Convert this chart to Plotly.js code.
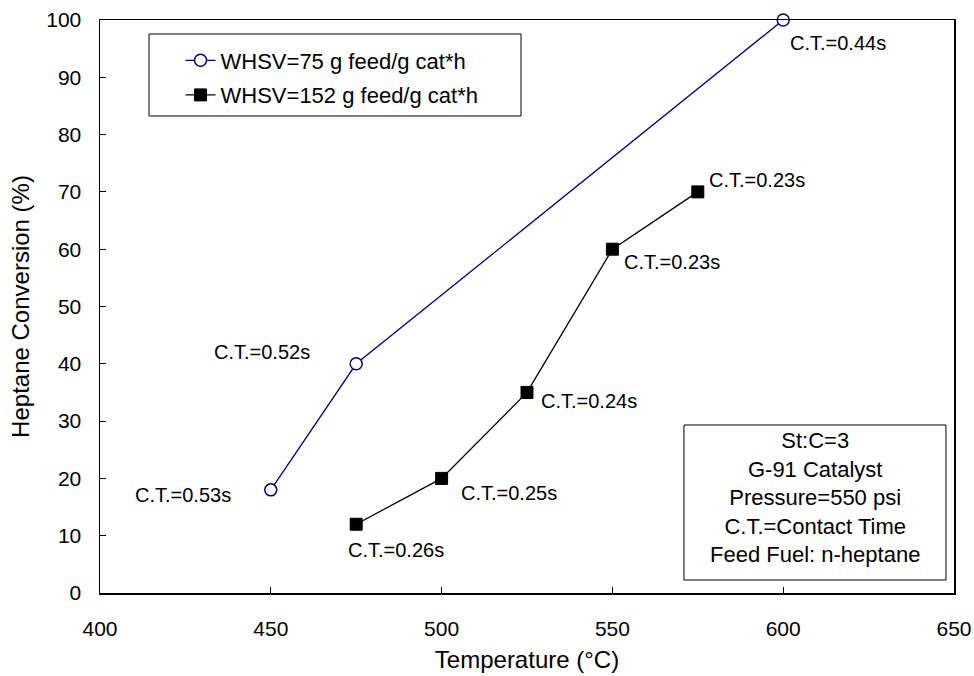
<!DOCTYPE html>
<html>
<head>
<meta charset="utf-8">
<script src="https://cdn.plot.ly/plotly-3.0.1.min.js"></script>
<style>html,body{margin:0;padding:0;background:#fff;}#chart{width:974px;height:676px;}</style>
</head>
<body>
<div id="chart"></div>
<script>
// Series data
const temp75 = [450, 475, 600];
const conv75 = [18, 40, 100];
const ct75 = ["C.T.=0.53s", "C.T.=0.52s", "C.T.=0.44s"];

const temp152 = [475, 500, 525, 550, 575];
const conv152 = [12, 20, 35, 60, 70];
const ct152 = ["C.T.=0.26s", "C.T.=0.25s", "C.T.=0.24s", "C.T.=0.23s", "C.T.=0.23s"];

const seriesNames = ["WHSV=75 g feed/g cat*h", "WHSV=152 g feed/g cat*h"];
const infoLines = ["St:C=3", "G-91 Catalyst", "Pressure=550 psi", "C.T.=Contact Time", "Feed Fuel: n-heptane"];

const xTicks = [400, 450, 500, 550, 600, 650];
const yTicks = [0, 10, 20, 30, 40, 50, 60, 70, 80, 90, 100];

// label offsets (pixels) for annotations
const off75 = [[-88, -5], [-94, 12], [55, -23]];
const off152 = [[40, -26], [67, -15], [62, -9], [60, -13], [59, 12]];

const FONT = "Liberation Sans, Arial, sans-serif";

const traces = [
  {
    x: temp75, y: conv75, name: seriesNames[0], type: "scatter", mode: "lines+markers",
    legendgroup: "a",
    line: {color: "#000080", width: 1.3},
    marker: {symbol: "circle", size: 12, color: "#ffffff", line: {color: "#000080", width: 1.5}},
    cliponaxis: false
  },
  {
    x: temp152, y: conv152, name: seriesNames[1], type: "scatter", mode: "lines+markers",
    legendgroup: "b",
    line: {color: "#000000", width: 1.3},
    marker: {symbol: "square", size: 12, color: "#000000", line: {color: "#000000", width: 1}},
    cliponaxis: false
  }
];

const annotations = [];
temp75.forEach((t, i) => annotations.push({
  x: t, y: conv75[i], xref: "x", yref: "y", text: ct75[i], showarrow: false,
  xshift: off75[i][0], yshift: off75[i][1], font: {family: FONT, size: 20, color: "#000"}
}));
temp152.forEach((t, i) => annotations.push({
  x: t, y: conv152[i], xref: "x", yref: "y", text: ct152[i], showarrow: false,
  xshift: off152[i][0], yshift: off152[i][1], font: {family: FONT, size: 20, color: "#000"}
}));
annotations.push({
  x: 0.837, y: 0.1667, xref: "paper", yref: "paper", xanchor: "center", yanchor: "middle",
  text: infoLines.join("<br>"), showarrow: false, align: "center",
  font: {family: FONT, size: 22, color: "#000"}
});

const layout = {
  width: 974, height: 676,
  margin: {l: 100, r: 20, t: 20, b: 83},
  paper_bgcolor: "#fff", plot_bgcolor: "#fff",
  font: {family: FONT, color: "#000"},
  showlegend: true,
  legend: {
    x: 0.0943, y: 0.966, xanchor: "left", yanchor: "top",
    bgcolor: "rgba(0,0,0,0)", borderwidth: 0,
    traceorder: "grouped", tracegroupgap: 3,
    font: {family: FONT, size: 22, color: "#000"}
  },
  xaxis: {
    range: [400, 650], tickvals: xTicks, ticktext: xTicks.map(String),
    ticks: "inside", ticklen: 6, tickcolor: "#000", tickwidth: 1,
    showline: true, linecolor: "#000", linewidth: 1.5, mirror: true,
    showgrid: false, zeroline: false, ticklabelstandoff: 16,
    tickfont: {family: FONT, size: 21, color: "#000"},
    title: {text: "Temperature (°C)", font: {family: FONT, size: 24, color: "#000"}, standoff: 12}
  },
  yaxis: {
    range: [0, 100], tickvals: yTicks, ticktext: yTicks.map(String),
    ticks: "inside", ticklen: 6, tickcolor: "#000", tickwidth: 1,
    showline: true, linecolor: "#000", linewidth: 1.5, mirror: true,
    showgrid: false, zeroline: false, ticklabelstandoff: 13,
    tickfont: {family: FONT, size: 21, color: "#000"},
    title: {text: "Heptane Conversion (%)", font: {family: FONT, size: 24, color: "#000"}, standoff: 10}
  },
  shapes: [
    {type: "rect", xref: "paper", yref: "paper", x0: 0.0574, x1: 0.4930, y0: 0.8325, y1: 0.9756,
     line: {color: "#000", width: 1}, fillcolor: "rgba(0,0,0,0)"},
    {type: "rect", xref: "paper", yref: "paper", x0: 0.6838, x1: 0.9906, y0: 0.0227, y1: 0.2932,
     line: {color: "#000", width: 1}, fillcolor: "rgba(0,0,0,0)"}
  ],
  annotations: annotations
};

Plotly.newPlot("chart", traces, layout, {displayModeBar: false, staticPlot: true});
</script>
</body>
</html>
